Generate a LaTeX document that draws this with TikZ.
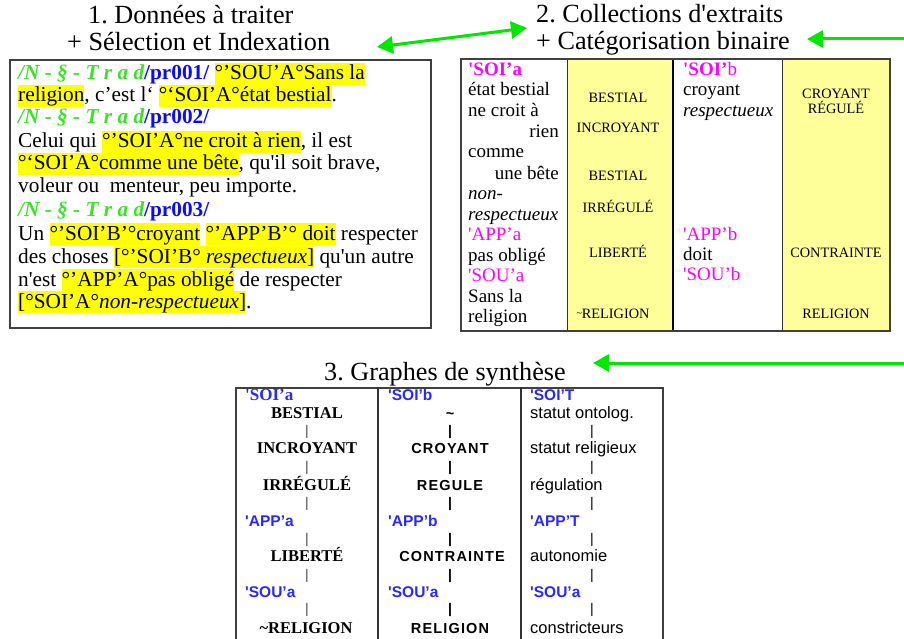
\documentclass[tikz,border=0pt]{standalone}
\usepackage{fontspec}
\setmainfont{Liberation Serif}[Ligatures=TeXOff]
\newfontfamily\arialf{Liberation Sans}[Ligatures=TeXOff]
\usetikzlibrary{arrows.meta}
\definecolor{hly}{RGB}{255,255,0}
\definecolor{celly}{RGB}{255,255,153}
\definecolor{gtxt}{RGB}{60,225,40}
\definecolor{garrow}{RGB}{0,232,0}
\definecolor{mag}{RGB}{255,0,255}
\definecolor{blu}{RGB}{10,10,255}
\definecolor{blu3}{RGB}{40,40,255}
\newcommand\hlt[1]{{\setlength\fboxsep{0pt}\colorbox{hly}{\rule[-0.25em]{0pt}{1.05em}#1}}}
\newcommand\tagN[1]{{\color{gtxt}\bfseries\itshape /N - § - T r a d}{\color{blu}\bfseries /#1/}}
\frenchspacing
\begin{document}
\begin{tikzpicture}[x=1pt,y=-1pt,
  title/.style={anchor=base west,inner sep=0pt,font=\fontsize{26.2}{28}\selectfont},
  ln/.style={anchor=base west,inner sep=0pt,font=\fontsize{21.3}{23}\selectfont},
  cl/.style={anchor=base west,inner sep=0pt,font=\fontsize{19}{21}\selectfont},
  cr/.style={anchor=base east,inner sep=0pt,font=\fontsize{19}{21}\selectfont},
  capt/.style={anchor=base,inner sep=0pt,font=\fontsize{14.3}{15}\selectfont},
  framebox/.style={draw=black!75,line width=1.6pt,anchor=north west,inner sep=0pt},
  gb/.style={anchor=base,inner sep=0pt,font=\fontsize{16.5}{18}\selectfont\bfseries},
  ga/.style={anchor=base,inner sep=0pt,font=\arialf\fontsize{14.5}{17}\selectfont\bfseries\addfontfeature{LetterSpace=8}},
  gl/.style={anchor=base west,inner sep=0pt,font=\arialf\fontsize{16.5}{18}\selectfont},
  glab/.style={anchor=base west,inner sep=0pt,text=blu3,font=\arialf\fontsize{15.5}{17}\selectfont\bfseries},
  bar/.style={inner sep=0pt,font=\arialf\fontsize{14}{16}\selectfont},
  gar/.style={draw=garrow,line width=3pt}
]
\useasboundingbox (0,0) rectangle (904,639);
\fill[white] (0,0) rectangle (904,639);

% ---------- titles ----------
\node[title] (t1a) at (88,24) {1. Données à traiter};
\node[title] (t1b) at (67,51) {+ Sélection et Indexation};
\node[title] (t2a) at (536,23) {2. Collections d'extraits};
\node[title] (t2b) at (536,50) {+ Catégorisation binaire};
\node[title] (t3) at (324,380) {3. Graphes de synthèse};

% ---------- arrows ----------
\coordinate (a1l) at (377,47);
\coordinate (a1r) at (527,28);
\coordinate (a2s) at (904,39);
\coordinate (a2e) at (807,39);
\coordinate (a3s) at (904,363);
\coordinate (a3e) at (593,363);
\draw[gar,{Triangle[length=16pt,width=17pt]}-{Triangle[length=16pt,width=17pt]}] (a1l) -- (a1r);
\draw[gar,-{Triangle[length=16pt,width=17pt]}] (a2s) -- (a2e);
\draw[gar,-{Triangle[length=16pt,width=17pt]}] (a3s) -- (a3e);

% ---------- box 1 ----------
\node[framebox,minimum width=421pt,minimum height=268pt] (b1) at (9,59) {};
\node[ln] (l1) at (18,80) {\tagN{pr001} \hlt{°’SOU’A°Sans la}};
\node[ln] (l2) at (18,102) {\hlt{religion}, c’est l‘ \hlt{°‘SOI’A°état bestial}.};
\node[ln] (l3) at (18,124) {\tagN{pr002}};
\node[ln] (l4) at (18,148) {Celui qui \hlt{°’SOI’A°ne croit à rien}, il est};
\node[ln] (l5) at (18,170) {\hlt{°‘SOI’A°comme une bête}, qu'il soit brave,};
\node[ln] (l6) at (18,193) {voleur ou\ \ menteur, peu importe.};
\node[ln] (l7) at (18,216) {\tagN{pr003}};
\node[ln] (l8) at (18,240) {Un \hlt{°’SOI’B’°croyant} \hlt{°’APP’B’° doit} respecter};
\node[ln] (l9) at (18,263) {des choses \hlt{[°’SOI’B° \textit{respectueux}]} qu'un autre};
\node[ln] (l10) at (18,286) {n'est \hlt{°’APP’A°pas obligé} de respecter};
\node[ln] (l11) at (18,308) {\hlt{[°SOI’A°\textit{non-respectueux}]}.};

% ---------- box 2 (table) ----------
\fill[celly] (567,58) rectangle (673,330);
\fill[celly] (782,58) rectangle (889,330);
\draw[black!80,line width=0.8pt] (567,58) -- (567,330);
\draw[black,line width=2.4pt] (673,58) -- (673,330);
\draw[black!80,line width=0.8pt] (782,58) -- (782,330);
\node[framebox,minimum width=429pt,minimum height=272pt] (b2) at (460,58) {};

% column 1
\node[cl,text=mag,font=\fontsize{19}{21}\selectfont\bfseries] (c1a) at (468,76) {'SOI’a};
\node[cl] (c1b) at (468,96) {état bestial};
\node[cl] (c1c) at (468,117) {ne croit à};
\node[cr] (c1d) at (559,138) {rien};
\node[cl] (c1e) at (468,158) {comme};
\node[cr] (c1f) at (559,179) {une bête};
\node[cl] (c1g) at (468,200) {\textit{non-}};
\node[cl] (c1h) at (468,220) {\textit{respectueux}};
\node[cl,text=mag] (c1i) at (468,240) {'APP’a};
\node[cl] (c1j) at (468,261) {pas obligé};
\node[cl,text=mag] (c1k) at (468,281) {'SOU’a};
\node[cl] (c1l) at (468,302) {Sans la};
\node[cl] (c1m) at (468,322) {religion};

% column 2
\node[capt] (c2a) at (618,103) {BESTIAL};
\node[capt] (c2b) at (618,133) {INCROYANT};
\node[capt] (c2c) at (618,180) {BESTIAL};
\node[capt] (c2d) at (618,212) {IRRÉGULÉ};
\node[capt] (c2e) at (618,257) {LIBERTÉ};
\node[capt] (c2f) at (613,318) {\raisebox{0.25ex}{\fontsize{10}{10}\selectfont\~{}}RELIGION};

% column 3
\node[cl,text=mag] (c3a) at (683,76) {\textbf{'SOI’}b};
\node[cl] (c3b) at (683,96) {croyant};
\node[cl] (c3c) at (683,117) {\textit{respectueux}};
\node[cl,text=mag] (c3d) at (683,240) {'APP’b};
\node[cl] (c3e) at (683,260) {doit};
\node[cl,text=mag] (c3f) at (683,280) {'SOU’b};

% column 4
\node[capt] (c4a) at (836,99) {CROYANT};
\node[capt] (c4b) at (836,114) {RÉGULÉ};
\node[capt] (c4c) at (836,257) {CONTRAINTE};
\node[capt] (c4d) at (836,318) {RELIGION};

% ---------- box 3 ----------
\node[framebox,minimum width=427pt,minimum height=252pt] (b3) at (235,387) {};
\draw[black!80,line width=1.2pt] (378,387) -- (378,639);
\draw[black!80,line width=1.2pt] (521,387) -- (521,639);

% column 1
\node[glab,font=\fontsize{17}{19}\selectfont\bfseries] (g1a) at (245,400) {'SOI’a};
\node[gb] (g1b) at (307,418) {BESTIAL};
\node[bar,text=black!70] (g1bar1) at (307,432) {|};
\node[gb] (g1c) at (307,453) {INCROYANT};
\node[bar,text=black!70] (g1bar2) at (307,468) {|};
\node[gb] (g1d) at (307,490) {IRRÉGULÉ};
\node[bar,text=black!70] (g1bar3) at (307,504) {|};
\node[glab] (g1e) at (245,526) {'APP’a};
\node[bar,text=black!70] (g1bar4) at (307,540) {|};
\node[gb] (g1f) at (307,561) {LIBERTÉ};
\node[bar,text=black!70] (g1bar5) at (307,576) {|};
\node[glab] (g1g) at (245,597) {'SOU’a};
\node[bar,text=black!70] (g1bar6) at (307,610) {|};
\node[gb] (g1h) at (306,633) {\~{}RELIGION};

% column 2
\node[glab] (g2a) at (388,400) {'SOI’b};
\node[ga] (g2b) at (450,418) {\~{}};
\node[bar,font=\arialf\fontsize{14}{16}\selectfont\bfseries] (g2bar1) at (450,432) {|};
\node[ga] (g2c) at (450,453) {CROYANT};
\node[bar,font=\arialf\fontsize{14}{16}\selectfont\bfseries] (g2bar2) at (450,468) {|};
\node[ga] (g2d) at (450,490) {REGULE};
\node[bar,font=\arialf\fontsize{14}{16}\selectfont\bfseries] (g2bar3) at (450,504) {|};
\node[glab] (g2e) at (388,526) {'APP’b};
\node[bar,font=\arialf\fontsize{14}{16}\selectfont\bfseries] (g2bar4) at (450,540) {|};
\node[ga] (g2f) at (452,561) {CONTRAINTE};
\node[bar,font=\arialf\fontsize{14}{16}\selectfont\bfseries] (g2bar5) at (450,576) {|};
\node[glab] (g2g) at (388,597) {'SOU’a};
\node[bar,font=\arialf\fontsize{14}{16}\selectfont\bfseries] (g2bar6) at (450,610) {|};
\node[ga] (g2h) at (450,633) {RELIGION};

% column 3
\node[glab] (g3a) at (530,400) {'SOI’T};
\node[gl] (g3b) at (530,418) {statut ontolog.};
\node[bar] (g3bar1) at (592,432) {|};
\node[gl] (g3c) at (530,453) {statut religieux};
\node[bar] (g3bar2) at (592,468) {|};
\node[gl] (g3d) at (530,490) {régulation};
\node[bar] (g3bar3) at (592,504) {|};
\node[glab] (g3e) at (530,526) {'APP’T};
\node[bar] (g3bar4) at (592,540) {|};
\node[gl] (g3f) at (530,561) {autonomie};
\node[bar] (g3bar5) at (592,576) {|};
\node[glab] (g3g) at (530,597) {'SOU’a};
\node[bar] (g3bar6) at (592,610) {|};
\node[gl] (g3h) at (530,633) {constricteurs};
\end{tikzpicture}
\end{document}
